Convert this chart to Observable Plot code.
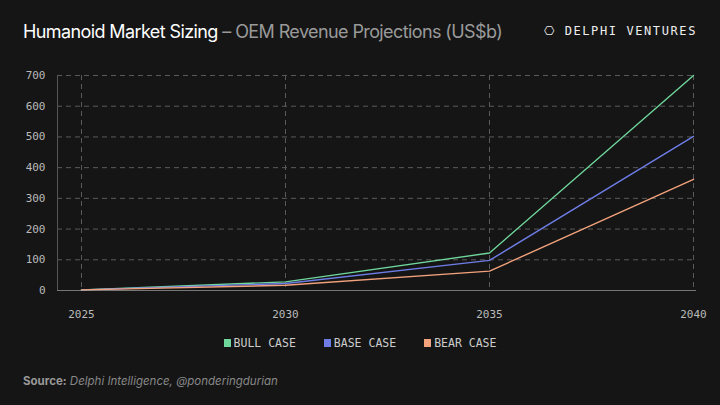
<!DOCTYPE html>
<html><head><meta charset="utf-8">
<script src="https://cdn.jsdelivr.net/npm/d3@7"></script>
<script src="https://cdn.jsdelivr.net/npm/@observablehq/plot@0.6"></script>
<style>
body{margin:0;width:720px;height:405px;background:#151515;overflow:hidden;font-family:Inter,sans-serif;position:relative}
#hdr{position:absolute;left:23px;top:21px;font-size:18px;letter-spacing:-0.6px;color:#fff}
#hdr span{color:#9a9a9a}
#logo{position:absolute;right:23px;top:24px;color:#eee;font-family:"DejaVu Sans Mono",monospace;font-size:12px;letter-spacing:1.6px}
#chart{position:absolute;left:0;top:55px}
#legend{position:absolute;top:336px;left:0;width:720px;text-align:center;font-family:"DejaVu Sans Mono",monospace;font-size:11.5px;color:#ccc}
#legend i{display:inline-block;width:7px;height:8px;margin:0 3px 0 0}
#legend b{font-weight:normal;margin:0 14px}
#src{position:absolute;left:23px;top:374px;font-size:11.5px;color:#888;font-style:italic}
#src strong{font-style:normal;color:#999}
</style></head><body>
<div id="hdr">Humanoid Market Sizing <span>– OEM Revenue Projections (US$b)</span></div>
<div id="logo">⎔ DELPHI VENTURES</div>
<div id="chart"></div>
<div id="legend"></div>
<div id="src"><strong>Source:</strong> Delphi Intelligence, @ponderingdurian</div>
<script>
const years=[2025,2030,2035,2040];
const bull=[2,28,122,700];
const base=[2,23,98,502];
const bear=[2,17,63,362];
const series=["BULL CASE","BASE CASE","BEAR CASE"];
const colors=["#6fd69c","#6e7de6","#f2a27c"];
const vals=[bull,base,bear];
const data=[];
series.forEach((s,i)=>years.forEach((y,j)=>data.push({year:y,value:vals[i][j],s})));
const grid={stroke:"#5a5a5a",strokeOpacity:1,strokeDasharray:"5,4"};
const p=Plot.plot({
  width:720,height:280,marginLeft:57,marginRight:24,marginTop:20,marginBottom:45,
  style:{background:"transparent",color:"#bbb",fontFamily:"DejaVu Sans Mono, monospace",fontSize:"11px"},
  x:{domain:[2025,2040],insetLeft:24,insetRight:3,ticks:years,tickFormat:d=>String(d),label:null},
  y:{domain:[0,700],ticks:d3.range(0,701,100),label:null},
  color:{domain:series,range:colors},
  marks:[
    Plot.gridY(d3.range(100,701,100),{...grid,x1:null}),
    Plot.gridX(years,grid),
    Plot.frame({anchor:"left",stroke:"#555"}),
    Plot.ruleY([0],{stroke:"#777"}),
    Plot.axisY({tickSize:0,tickPadding:12,fill:"#bbb"}),
    Plot.axisX(years,{tickSize:0,tickPadding:20,fill:"#bbb",tickFormat:d=>String(d)}),
    Plot.line(data,{x:"year",y:"value",stroke:"s",strokeWidth:1.4})
  ]
});
document.getElementById("chart").appendChild(p);
document.getElementById("legend").innerHTML=series.map((s,i)=>`<b><i style="background:${colors[i]}"></i>${s}</b>`).join("");
</script></body></html>
